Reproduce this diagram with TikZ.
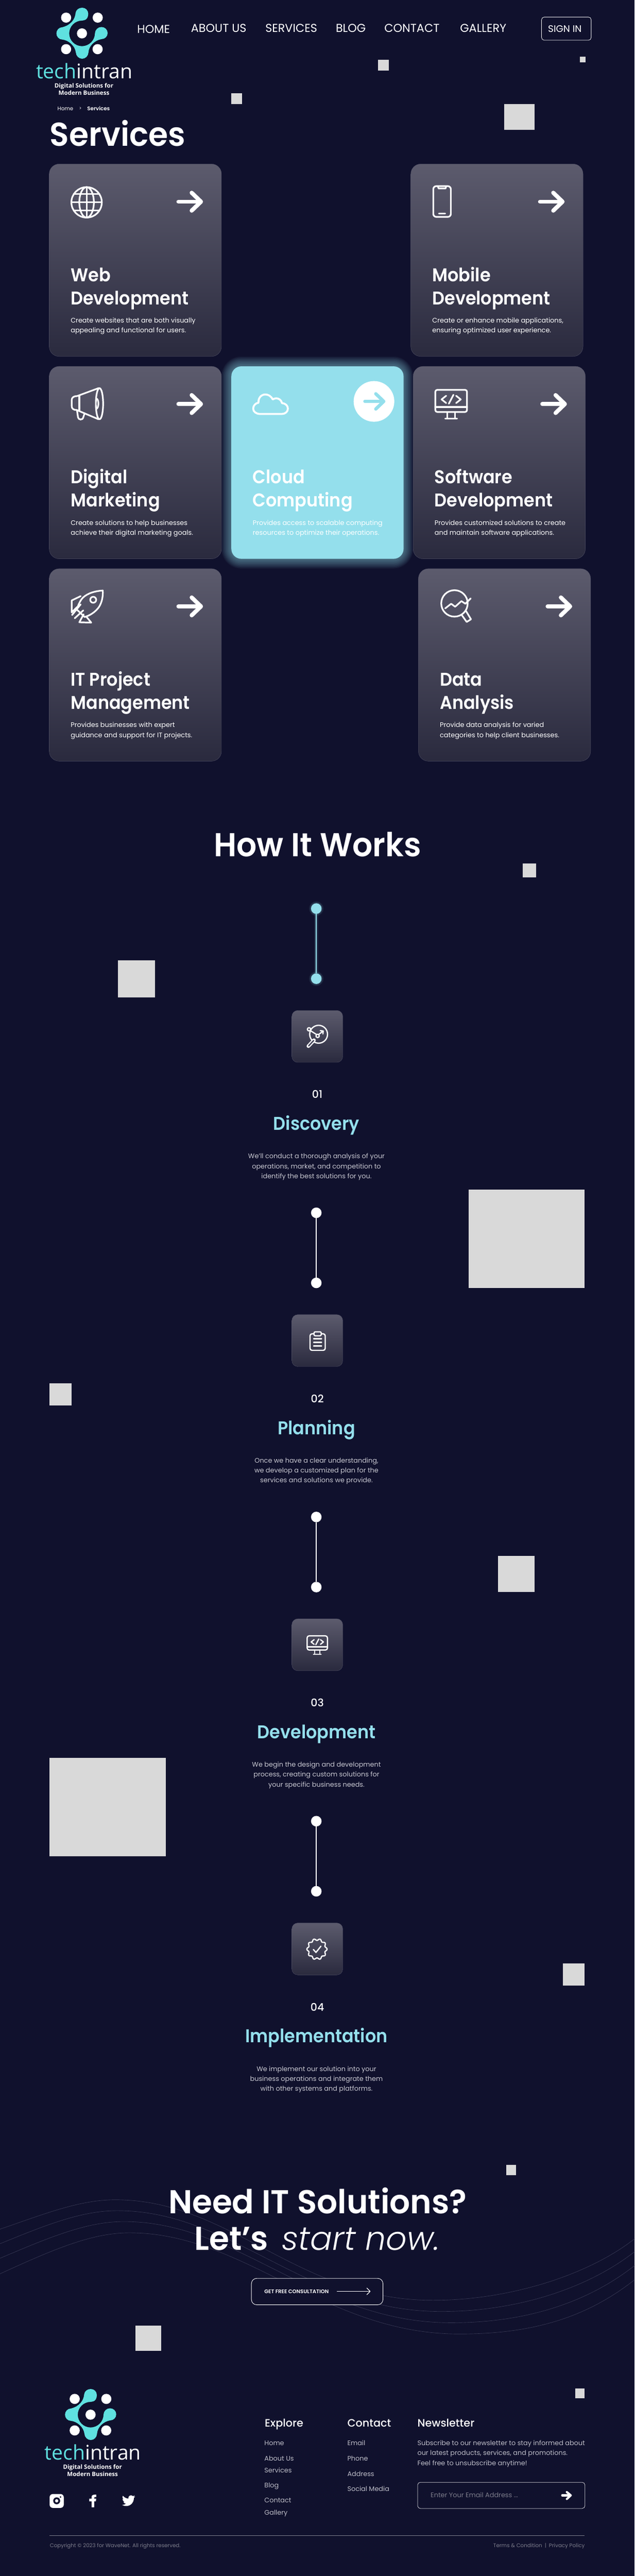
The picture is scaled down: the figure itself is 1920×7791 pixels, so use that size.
\documentclass[tikz,border=0pt]{standalone}
\usepackage{fontspec}
\setmainfont{Poppins}
\newfontfamily\popM{Poppins Medium}
\newfontfamily\popS{Poppins SemiBold}
\newfontfamily\popL{Poppins Light}
\newfontfamily\tit[FakeStretch=0.93]{Poppins SemiBold}
\newfontfamily\tith[FakeStretch=0.96]{Poppins SemiBold}
\newfontfamily\tithb[FakeStretch=0.98]{Poppins SemiBold}
\newfontfamily\opn{Open Sans}
\newcommand\opnS{\opn\bfseries}
\definecolor{bg}{HTML}{10112D}
\definecolor{sq}{HTML}{D9D9D9}
\definecolor{logot}{HTML}{5FE1E0}
\definecolor{cy}{HTML}{94DFEC}
\definecolor{ctop}{HTML}{5C5B6D}
\definecolor{cbot}{HTML}{2A2A3E}
\definecolor{cedge}{HTML}{55556A}
\definecolor{stepd}{HTML}{C8C8D2}
\definecolor{flink}{HTML}{BDBDC8}
\definecolor{fmute}{HTML}{7D7D8C}
\definecolor{wavec}{HTML}{3A3B56}
\definecolor{boxmid}{HTML}{45455A}
\tikzset{
  x=0.5pt,y=-0.5pt,
  txt/.style={inner sep=0pt,outer sep=0pt,anchor=base west,text=white},
  ctr/.style={inner sep=0pt,outer sep=0pt,anchor=base,text=white},
  rgt/.style={inner sep=0pt,outer sep=0pt,anchor=base east,text=white},
  card/.style={inner sep=0pt,outer sep=0pt,anchor=north west,minimum width=260.5pt,minimum height=291pt,rounded corners=15pt,top color=ctop,bottom color=cbot,draw=cedge,line width=0.3pt},
  cardhot/.style={inner sep=0pt,outer sep=0pt,anchor=north west,minimum width=260.5pt,minimum height=291pt,rounded corners=15pt,fill=cy},
  stepbox/.style={inner sep=0pt,outer sep=0pt,anchor=north west,minimum width=77pt,minimum height=78.5pt,rounded corners=9pt,top color=ctop,bottom color=cbot,draw=cedge,line width=0.3pt},
  ico/.style={draw=white,line width=2.5pt,line cap=round,line join=round,fill=none},
  icos/.style={draw=white,line width=1.9pt,line cap=round,line join=round,fill=none},
  arr/.style={line width=6.2pt,line cap=round,line join=round},
  ptitle/.style={font=\tit\fontsize{28}{28}\selectfont},
  pdesc/.style={font=\fontsize{10}{10}\selectfont},
  dotn/.style={circle,inner sep=0pt,outer sep=0pt,minimum size=16pt},
  h1/.style={font=\tith\fontsize{50}{50}\selectfont},
  h1b/.style={font=\tithb\fontsize{50}{50}\selectfont},
  navt/.style={font=\fontsize{17.4}{17.4}\selectfont},
  flk/.style={font=\fontsize{10}{10}\selectfont,text=flink},
  fhd/.style={font=\popM\fontsize{16.2}{16.2}\selectfont},
  wv/.style={draw=wavec,line width=0.5pt},
}
\newcommand\sqbox[4]{\fill[sq] (#1,#3) rectangle (#2,#4);}
\newcommand\logomark[2]{%
\begin{scope}[shift={(#1,#2)},x=0.1667pt,y=-0.1667pt]
\fill[logot] (0,-116) .. controls (8,-116) and (15,-117) .. (22,-120)
 .. controls (45,-125) and (57,-150) .. (57,-178)
 .. controls (57,-210) and (32,-233) .. (2,-233)
 .. controls (-30,-233) and (-55,-212) .. (-58,-185)
 .. controls (-62,-130) and (-100,-75) .. (-178,-56)
 .. controls (-208,-56) and (-232,-30) .. (-232,0)
 .. controls (-232,30) and (-208,56) .. (-178,56)
 .. controls (-120,62) and (-62,115) .. (-56,172)
 .. controls (-54,205) and (-28,230) .. (2,230)
 .. controls (32,230) and (57,205) .. (59,172)
 .. controls (62,115) and (115,62) .. (177,52)
 .. controls (208,52) and (233,28) .. (233,-3)
 .. controls (233,-34) and (208,-58) .. (177,-58)
 .. controls (146,-58) and (120,-34) .. (118,-3)
 .. controls (118,64) and (64,116) .. (0,116)
 .. controls (-64,116) and (-116,64) .. (-116,0)
 .. controls (-116,-64) and (-64,-116) .. (0,-116) -- cycle;
\fill[white] (0,0) circle (46) (-144,-143) circle (46) (143,-143) circle (46) (-144,143) circle (46) (142,143) circle (46);
\end{scope}}
\newcommand\logotext[5]{% name, x-centre, base1, base2, base3
\node (#1a) [ctr,font=\opn\fontsize{30.5}{30.5}\selectfont] at (#2,#3) {{\color{logot}tech}intran};
\node (#1b) [ctr,font=\opnS\fontsize{9}{9}\selectfont] at (#2-1,#4) {Digital Solutions for};
\node (#1c) [ctr,font=\opnS\fontsize{9}{9}\selectfont] at (#2-1,#5) {Modern Business};
}
\newcommand\svcard[8]{% name,x,y,style,t1,t2,d1,d2
\begin{scope}[shift={(#2,#3)}]
\node (#1) [#4] at (0,0) {};
\node (#1t1) [txt,ptitle] at (65,355) {#5};
\node (#1t2) [txt,ptitle] at (65,425) {#6};
\node (#1d1) [txt,pdesc] at (65,480) {#7};
\node (#1d2) [txt,pdesc] at (65,510) {#8};
\end{scope}}
\newcommand\svarrow[2]{% x,y of card
\begin{scope}[shift={(#1,#2)}]
\draw[arr,white] (391,114) -- (458,114);
\draw[arr,white] (431,87) -- (459,114) -- (431,141);
\end{scope}}
\newcommand\monitoricon[4]{% cx,cy,scale,style
\begin{scope}[shift={(#1,#2)},x=#3*0.5pt,y=-#3*0.5pt]
\draw[#4,rounded corners=3pt] (-48,-43) rectangle (48,24);
\draw[#4] (-48,9) -- (48,9);
\draw[#4] (-12,25) -- (-12,43) (12,25) -- (12,43) (-18,44) -- (18,44);
\draw[#4] (-15,-25) -- (-29,-14) -- (-15,-3);
\draw[#4] (15,-25) -- (29,-14) -- (15,-3);
\draw[#4] (-7,-1) -- (7,-28);
\end{scope}}
\newcommand\stepblock[7]{% name, offset, linecolour, title, d1,d2,d3
\begin{scope}[shift={(0,#2)}]
\node (#1top) [dotn,fill=#3] at (957,2748) {};
\node (#1bot) [dotn,fill=#3] at (957,2960) {};
\draw[#3,line width=2pt] (#1top) -- (#1bot);
\node (#1box) [stepbox] at (883,3056) {};
\node (#1num) [ctr,font=\popM\fontsize{16}{16}\selectfont] at (960,3322) {#1};
\node (#1ttl) [ctr,ptitle,text=cy] at (957.5,3418) {#4};
\node (#1d1) [ctr,pdesc,text=stepd] at (957.5,3504) {#5};
\node (#1d2) [ctr,pdesc,text=stepd] at (957.5,3534) {#6};
\node (#1d3) [ctr,pdesc,text=stepd] at (957.5,3564) {#7};
\end{scope}}
\newcommand\wave[6]{% y0 px py tx ty yend
\draw[wv] (0,#1) .. controls (#2-220,#3+45) and (#2-110,#3) .. (#2,#3)
 .. controls (#2+350,#3) and (#4-410,#5) .. (#4,#5)
 .. controls (#4+230,#5) and (1780,#6+110) .. (1920,#6);}
\begin{document}
\begin{tikzpicture}
\useasboundingbox (0,0) rectangle (1920,7791);
\fill[bg] (0,0) rectangle (1920,7791);
% floating squares
\sqbox{1144}{1177}{180}{213}
\sqbox{1755}{1771}{172}{188}
\sqbox{700}{733}{282}{315}
\sqbox{1526}{1617}{315}{392}
\sqbox{1581}{1622}{2612}{2654}
\sqbox{357}{469}{2905}{3016}
\sqbox{1418}{1769}{3598}{3896}
\sqbox{149}{217}{4184}{4251}
\sqbox{1506}{1617}{4705}{4815}
\sqbox{149}{502}{5316}{5614}
\sqbox{1703}{1769}{5939}{6006}
\sqbox{1531}{1561}{6548}{6578}
\sqbox{410}{487}{7034}{7110}
\sqbox{1740}{1769}{7223}{7254}
% header
\logomark{248}{101}
\logotext{hl}{255}{238}{266}{288}
\node (nhome) [txt,navt] at (415,100) {HOME};
\node (nabout) [txt,navt] at (578,98) {ABOUT US};
\node (nserv) [txt,navt] at (803,98) {SERVICES};
\node (nblog) [txt,navt] at (1016,98) {BLOG};
\node (ncont) [txt,navt] at (1163,98) {CONTACT};
\node (ngall) [txt,navt] at (1392,98) {GALLERY};
\node (signin) [draw=white,line width=0.6pt,rounded corners=4pt,inner sep=0pt,minimum width=75pt,minimum height=35pt,anchor=north west] at (1638,51) {};
\node (signint) [ctr,font=\fontsize{14.4}{14.4}\selectfont] at (1709,97) {SIGN IN};
\node (crumb1) [txt,font=\fontsize{8}{8}\selectfont] at (174,334) {Home};
\node (crumb2) [ctr,font=\fontsize{7}{7}\selectfont] at (243,332) {>};
\node (crumb3) [txt,font=\popS\fontsize{8}{8}\selectfont] at (264,334) {Services};
\node (h1s) [txt,h1] at (151,442) {Services};
% glow of hot card
\foreach \g in {2,4,...,30}{\fill[cy,opacity=0.04,rounded corners=15pt+\g*0.5pt] (700-\g,1108-\g) rectangle (1220+\g,1690+\g);}
% service cards
\svcard{web}{149}{496}{card}{Web}{Development}{Create websites that are both visually}{appealing and functional for users.}
\svcard{mob}{1243}{496}{card}{Mobile}{Development}{Create or enhance mobile applications,}{ensuring optimized user experience.}
\svcard{dig}{149}{1108}{card}{Digital}{Marketing}{Create solutions to help businesses}{achieve their digital marketing goals.}
\svcard{clo}{700}{1108}{cardhot}{Cloud}{Computing}{Provides access to scalable computing}{resources to optimize their operations.}
\svcard{sof}{1250}{1108}{card}{Software}{Development}{Provides customized solutions to create}{and maintain software applications.}
\svcard{itp}{149}{1720}{card}{IT Project}{Management}{Provides businesses with expert}{guidance and support for IT projects.}
\svcard{dat}{1266}{1720}{card}{Data}{Analysis}{Provide data analysis for varied}{categories to help client businesses.}
\svarrow{149}{496}\svarrow{1243}{496}\svarrow{149}{1108}\svarrow{1250}{1108}\svarrow{149}{1720}\svarrow{1266}{1720}
% hot arrow
\node (cloc) [circle,fill=white,inner sep=0pt,minimum size=61.5pt] at (1131.5,1214) {};
\draw[cy,line width=5pt,line cap=round,line join=round] (1104,1214) -- (1158,1214);
\draw[cy,line width=5pt,line cap=round,line join=round] (1137,1191) -- (1161,1214) -- (1137,1237);
% globe
\draw[ico] (262,612) circle (46);
\draw[ico] (262,612) ellipse (22 and 46);
\draw[ico] (262,566) -- (262,658) (216,612) -- (308,612) (223,587) -- (301,587) (223,637) -- (301,637);
% phone
\draw[ico,rounded corners=4.5pt] (1311,563) rectangle (1364,656);
\draw[ico] (1325,564) -- (1327,570) -- (1348,570) -- (1350,564);
\draw[ico] (1328,646) -- (1347,646);
% megaphone
\draw[ico] (301,1221) ellipse (11 and 47);
\draw[ico] (298,1174) -- (233,1198) .. controls (222,1198) and (217,1203) .. (217,1210) -- (217,1228) .. controls (217,1236) and (222,1240) .. (232,1240) -- (298,1268);
\draw[ico] (240,1198) -- (240,1240);
\draw[ico] (233,1241) -- (236,1262) .. controls (237,1270) and (250,1272) .. (252,1262) -- (256,1250);
\draw[ico] (291,1205) .. controls (300,1207) and (300,1234) .. (291,1237);
% cloud
\draw[white,line width=2.9pt,line join=round] (787,1252) -- (853,1252) .. controls (863,1252) and (871,1245) .. (871,1236) .. controls (871,1227) and (864,1220) .. (853,1219) .. controls (851,1208) and (838,1200) .. (825,1208) .. controls (820,1197) and (810,1193) .. (803,1193) .. controls (790,1193) and (781,1204) .. (782,1218) .. controls (773,1219) and (766,1227) .. (766,1236) .. controls (766,1245) and (775,1252) .. (787,1252) -- cycle;
% monitor
\monitoricon{1365}{1222}{1}{ico}
% rocket
\draw[ico] (311,1786) .. controls (280,1788) and (258,1798) .. (247,1812) .. controls (240,1822) and (236,1832) .. (232,1843) -- (256,1866) .. controls (272,1862) and (290,1850) .. (300,1835) .. controls (308,1822) and (312,1805) .. (311,1786) -- cycle;
\draw[ico] (282,1814) circle (9);
\draw[ico] (244,1803) -- (217,1816) -- (217,1852) -- (233,1836);
\draw[ico] (262,1866) -- (276,1883) -- (240,1882) -- (253,1858);
\draw[ico] (218,1860) -- (244,1828) (226,1870) -- (252,1846);
% analysis
\draw[ico] (1375,1825) circle (40);
\draw[ico] (1347,1840) -- (1365,1826) -- (1377,1835) -- (1396,1818) -- (1408,1826) -- (1424,1810);
\draw[ico] (1397,1860) -- (1412,1881) -- (1425,1873) -- (1410,1848);
% how it works
\node (hiw) [ctr,h1] at (961,2591) {How It Works};
% glow of step 1 line
\foreach \g in {2,4,6}{\fill[cy,opacity=0.08] (957,2748) circle (16+\g);\fill[cy,opacity=0.08] (957,2960) circle (16+\g);\fill[cy,opacity=0.08] (957-2-\g*0.7,2748) rectangle (957+2+\g*0.7,2960);}
\stepblock{01}{0}{cy}{Discovery}{We'll conduct a thorough analysis of your}{operations, market, and competition to}{identify the best solutions for you.}
\stepblock{02}{920}{white}{Planning}{Once we have a clear understanding,}{we develop a customized plan for the}{services and solutions we provide.}
\stepblock{03}{1840}{white}{Development}{We begin the design and development}{process, creating custom solutions for}{your specific business needs.}
\stepblock{04}{2760}{white}{Implementation}{We implement our solution into your}{business operations and integrate them}{with other systems and platforms.}
% discovery icon
\draw[icos] (964,3128) circle (27);
\draw[white,line width=5.4pt,line cap=round] (950,3146) -- (933,3164);
\draw[boxmid,line width=2pt,line cap=round] (949,3147) -- (934,3163);
\draw[icos] (935,3113) circle (5) (961,3133) circle (5);
\draw[icos] (939,3117) -- (958,3129) (964,3129) -- (978,3118) (969,3117) -- (978,3118) -- (977,3127);
% clipboard
\draw[icos,rounded corners=3pt] (938,4034) rectangle (984,4084);
\draw[icos,fill=boxmid,rounded corners=2pt] (950,4028) rectangle (972,4040);
\draw[icos] (949,4049) -- (973,4049) (949,4060) -- (973,4060) (949,4071) -- (973,4071);
% monitor small
\monitoricon{960}{4975}{0.64}{icos}
% badge
\draw[icos] plot[domain=0:360,samples=121,smooth] ({959+(28+2.6*cos(10*\x))*cos(\x)},{5895+(29+2.6*cos(10*\x))*sin(\x)});
\draw[icos] (948,5896) -- (956,5905) -- (971,5886);
% call to action waves
\wave{6742}{349}{6653}{1310}{6957}{6771}
\wave{6786}{355}{6686}{1335}{6991}{6810}
\wave{6830}{375}{6719}{1365}{7025}{6852}
\wave{6877}{392}{6753}{1390}{7059}{6895}
\node (cta1) [ctr,h1b] at (961,6695) {Need IT Solutions?};
\node (cta2) [txt,h1b] at (588,6805) {Let’s};
\node (cta3) [txt,font=\popL\itshape\fontsize{49.5}{49.5}\selectfont] at (853,6805) {start now.};
\node (ctab) [draw=white,fill=bg,line width=0.7pt,rounded corners=8pt,inner sep=0pt,minimum width=199pt,minimum height=40pt,anchor=north west] at (760,6890) {};
\node (ctat) [txt,font=\popS\fontsize{7.9}{7.9}\selectfont] at (800,6937) {GET FREE CONSULTATION};
\coordinate (ctaa) at (1019,6930);
\coordinate (ctab2) at (1120,6930);
\draw[white,line width=1pt] (ctaa) -- (ctab2);
\draw[white,line width=1pt,line cap=round,line join=round] (1110,6920) -- (1120,6930) -- (1110,6940);
% footer
\logomark{274}{7303}
\logotext{fl}{281}{7439}{7468}{7490}
% instagram
\fill[white,rounded corners=5pt] (150,7543) rectangle (193,7585);
\fill[bg] (171.5,7563.5) circle (10.5);
\fill[white] (171.5,7563.5) circle (5);
\fill[bg] (183,7552) circle (2.6);
% facebook
\fill[white] (277,7583)--(277,7565)--(270,7565)--(270,7557)--(277,7557)--(277,7553) .. controls (277,7547) and (281,7545) .. (286,7545) -- (291,7545)--(291,7552)--(288,7552) .. controls (285,7552) and (285,7553) .. (285,7555)--(285,7557)--(291,7557)--(290,7565)--(285,7565)--(285,7583)--cycle;
% twitter
\begin{scope}[shift={(369,7543)},x=0.835pt,y=-0.835pt]
\fill[white] (23.953,4.57) .. controls (23.1,4.95) and (22.1,5.2) .. (21.128,5.345) .. controls (22.1,4.75) and (22.9,3.8) .. (23.291,2.622) .. controls (22.34,3.177) and (21.286,3.581) .. (20.164,3.806) .. controls (19.2,2.8) and (18,2.3) .. (16.6,2.3) .. controls (13.5,2.3) and (11.1,5.2) .. (11.78,8.288) .. controls (7.69,8.095) and (4.067,6.13) .. (1.64,3.162) .. controls (1.2,3.9) and (.974,4.75) .. (.974,5.637) .. controls (.974,7.347) and (1.844,8.85) .. (3.162,9.733) .. controls (2.35,9.7) and (1.6,9.5) .. (.934,9.117) -- (.934,9.177) .. controls (.934,11.6) and (2.6,13.5) .. (4.88,14.004) .. controls (4.15,14.2) and (3.4,14.2) .. (2.668,14.089) .. controls (3.3,16) and (5.1,17.45) .. (7.272,17.506) .. controls (5.6,18.8) and (3.5,19.611) .. (1.17,19.611) .. controls (.78,19.611) and (.391,19.588) .. (0,19.544) .. controls (2.18,20.94) and (4.77,21.753) .. (7.557,21.753) .. controls (16.61,21.753) and (21.555,14.257) .. (21.555,7.768) .. controls (21.555,7.558) and (21.555,7.348) .. (21.54,7.138) .. controls (22.5,6.44) and (23.35,5.58) .. (24,4.59) -- cycle;
\end{scope}
% footer columns
\node (fexp) [txt,fhd] at (801,7340) {Explore};
\node (fcon) [txt,fhd] at (1051,7340) {Contact};
\node (fnew) [txt,fhd] at (1263,7340) {Newsletter};
\node (fe1) [txt,flk] at (800,7396) {Home};
\node (fe2) [txt,flk] at (800,7442) {About Us};
\node (fe3) [txt,flk] at (800,7479) {Services};
\node (fe4) [txt,flk] at (800,7523) {Blog};
\node (fe5) [txt,flk] at (800,7569) {Contact};
\node (fe6) [txt,flk] at (800,7607) {Gallery};
\node (fc1) [txt,flk] at (1051,7396) {Email};
\node (fc2) [txt,flk] at (1051,7442) {Phone};
\node (fc3) [txt,flk] at (1051,7489) {Address};
\node (fc4) [txt,flk] at (1051,7534) {Social Media};
\node (fn1) [txt,flk] at (1263,7396) {Subscribe to our newsletter to stay informed about};
\node (fn2) [txt,flk] at (1263,7426) {our latest products, services, and promotions.};
\node (fn3) [txt,flk] at (1263,7456) {Feel free to unsubscribe anytime!};
\node (finp) [draw=white!85!bg,line width=0.6pt,rounded corners=4pt,inner sep=0pt,minimum width=253pt,minimum height=39.5pt,anchor=north west] at (1263,7507) {};
\node (finpt) [txt,font=\fontsize{10}{10}\selectfont,text=fmute] at (1303,7554) {Enter Your Email Address ...};
\draw[white,line width=3.2pt,line cap=round] (1701,7547) -- (1726,7547);
\draw[white,line width=3.2pt,line cap=round,line join=round] (1715,7537) -- (1727,7547) -- (1715,7558);
\coordinate (fruleL) at (150,7668);
\coordinate (fruleR) at (1769,7668);
\draw[fmute,line width=0.6pt] (fruleL) -- (fruleR);
\node (fcopy) [txt,font=\fontsize{8}{8}\selectfont,text=fmute] at (151,7704) {Copyright © 2023 for WaveNet. All rights reserved.};
\node (fterm) [rgt,font=\fontsize{8}{8}\selectfont,text=fmute] at (1769,7704) {Terms \& Condition\enspace|\enspace Privacy Policy};
\end{tikzpicture}
\end{document}
